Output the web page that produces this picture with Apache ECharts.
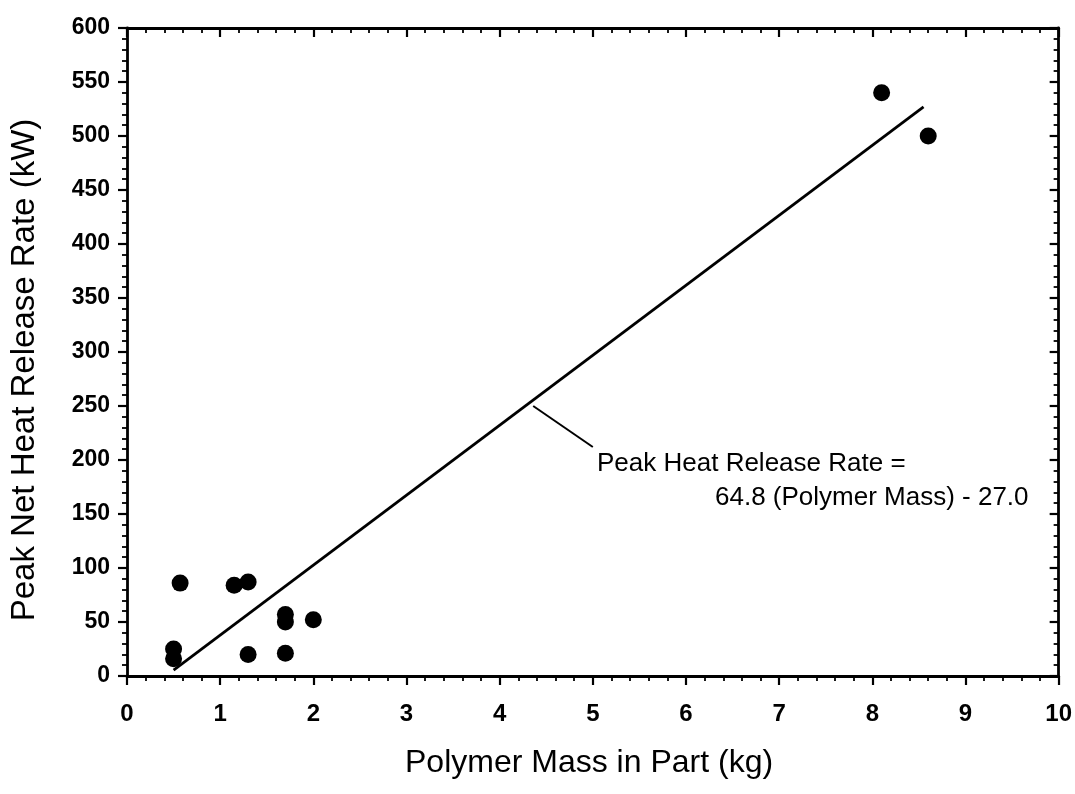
<!DOCTYPE html>
<html>
<head>
<meta charset="utf-8">
<script src="https://cdn.jsdelivr.net/npm/echarts@6/dist/echarts.min.js"></script>
<style>
  html, body { margin: 0; padding: 0; background: #fff; }
  #chart { width: 1075px; height: 794px; }
</style>
</head>
<body>
<div id="chart"></div>
<script>
// ---- data ----
const massKg  = [0.5, 0.5, 0.57, 1.15, 1.3, 1.3, 1.7, 1.7, 1.7, 2.0, 8.1, 8.6];
const peakHRR = [25, 16, 86, 84, 87, 20, 57, 50, 21, 52, 540, 500];
// regression line end points: Peak HRR = 64.8 (Polymer Mass) - 27.0
const fitX = [0.5, 8.55];
const fitY = [5.4, 527];
// leader line from the fit to the equation label
const leaderX = [4.36, 5.0];
const leaderY = [250, 212];
// axes
const xMin = 0, xMax = 10, xStep = 1;
const yMin = 0, yMax = 600, yStep = 50;
const xTitle = 'Polymer Mass in Part (kg)';
const yTitle = 'Peak Net Heat Release Rate (kW)';
const eqLine1 = 'Peak Heat Release Rate =';
const eqLine2 = '64.8 (Polymer Mass) - 27.0';

const FONT = '"Liberation Sans", Arial, sans-serif';
const pts = massKg.map((x, i) => [x, peakHRR[i]]);
const fit = fitX.map((x, i) => [x, fitY[i]]);
const leader = leaderX.map((x, i) => [x, leaderY[i]]);

const lineStyle = { color: '#000', width: 2.8 };
function xAx(pos, inside, labels) {
  return {
    type: 'value', position: pos, min: xMin, max: xMax, interval: xStep,
    axisLine: { show: true, onZero: false, lineStyle },
    axisTick: { show: true, inside, length: 9, lineStyle: { color: '#000', width: 2.2 } },
    minorTick: { show: true, splitNumber: 5, length: 5, lineStyle: { color: '#000', width: 1.8 } },
    splitLine: { show: false },
    axisLabel: { show: labels, margin: 26, color: '#000', fontFamily: FONT, fontWeight: 'bold', fontSize: 24 }
  };
}
function yAx(pos, inside, labels) {
  return {
    type: 'value', position: pos, min: yMin, max: yMax, interval: yStep,
    axisLine: { show: true, onZero: false, lineStyle },
    axisTick: { show: true, inside, length: 9, lineStyle: { color: '#000', width: 2.2 } },
    minorTick: { show: true, splitNumber: 5, length: 5, lineStyle: { color: '#000', width: 1.8 } },
    splitLine: { show: false },
    axisLabel: { show: labels, margin: 17, color: '#000', fontFamily: FONT, fontWeight: 'bold', fontSize: 23 }
  };
}

const chart = echarts.init(document.getElementById('chart'), null, { renderer: 'canvas' });
chart.setOption({
  backgroundColor: '#fff',
  animation: false,
  grid: { left: 127, right: 14, top: 28, bottom: 118, containLabel: false },
  xAxis: [xAx('bottom', false, true), xAx('top', true, false)],
  yAxis: [yAx('left', false, true), yAx('right', true, false)],
  series: [
    { type: 'line', data: fit, xAxisIndex: 0, yAxisIndex: 0, symbol: 'none',
      lineStyle: { color: '#000', width: 2.8 } },
    { type: 'line', data: leader, xAxisIndex: 0, yAxisIndex: 0, symbol: 'none',
      lineStyle: { color: '#000', width: 2 } },
    { type: 'scatter', data: pts, xAxisIndex: 0, yAxisIndex: 0, symbol: 'circle', symbolSize: 17,
      itemStyle: { color: '#000', opacity: 1 } }
  ],
  graphic: [
    { type: 'text', left: 405, top: 747,
      style: { text: xTitle, font: '32px ' + FONT, fill: '#000' } },
    { type: 'text', x: 25, y: 370, rotation: Math.PI / 2,
      style: { text: yTitle, font: '33px ' + FONT, fill: '#000', align: 'center', verticalAlign: 'middle' } },
    { type: 'text', left: 597, top: 451,
      style: { text: eqLine1, font: '26px ' + FONT, fill: '#000' } },
    { type: 'text', left: 715, top: 485,
      style: { text: eqLine2, font: '26px ' + FONT, fill: '#000' } }
  ]
});
</script>
</body>
</html>
